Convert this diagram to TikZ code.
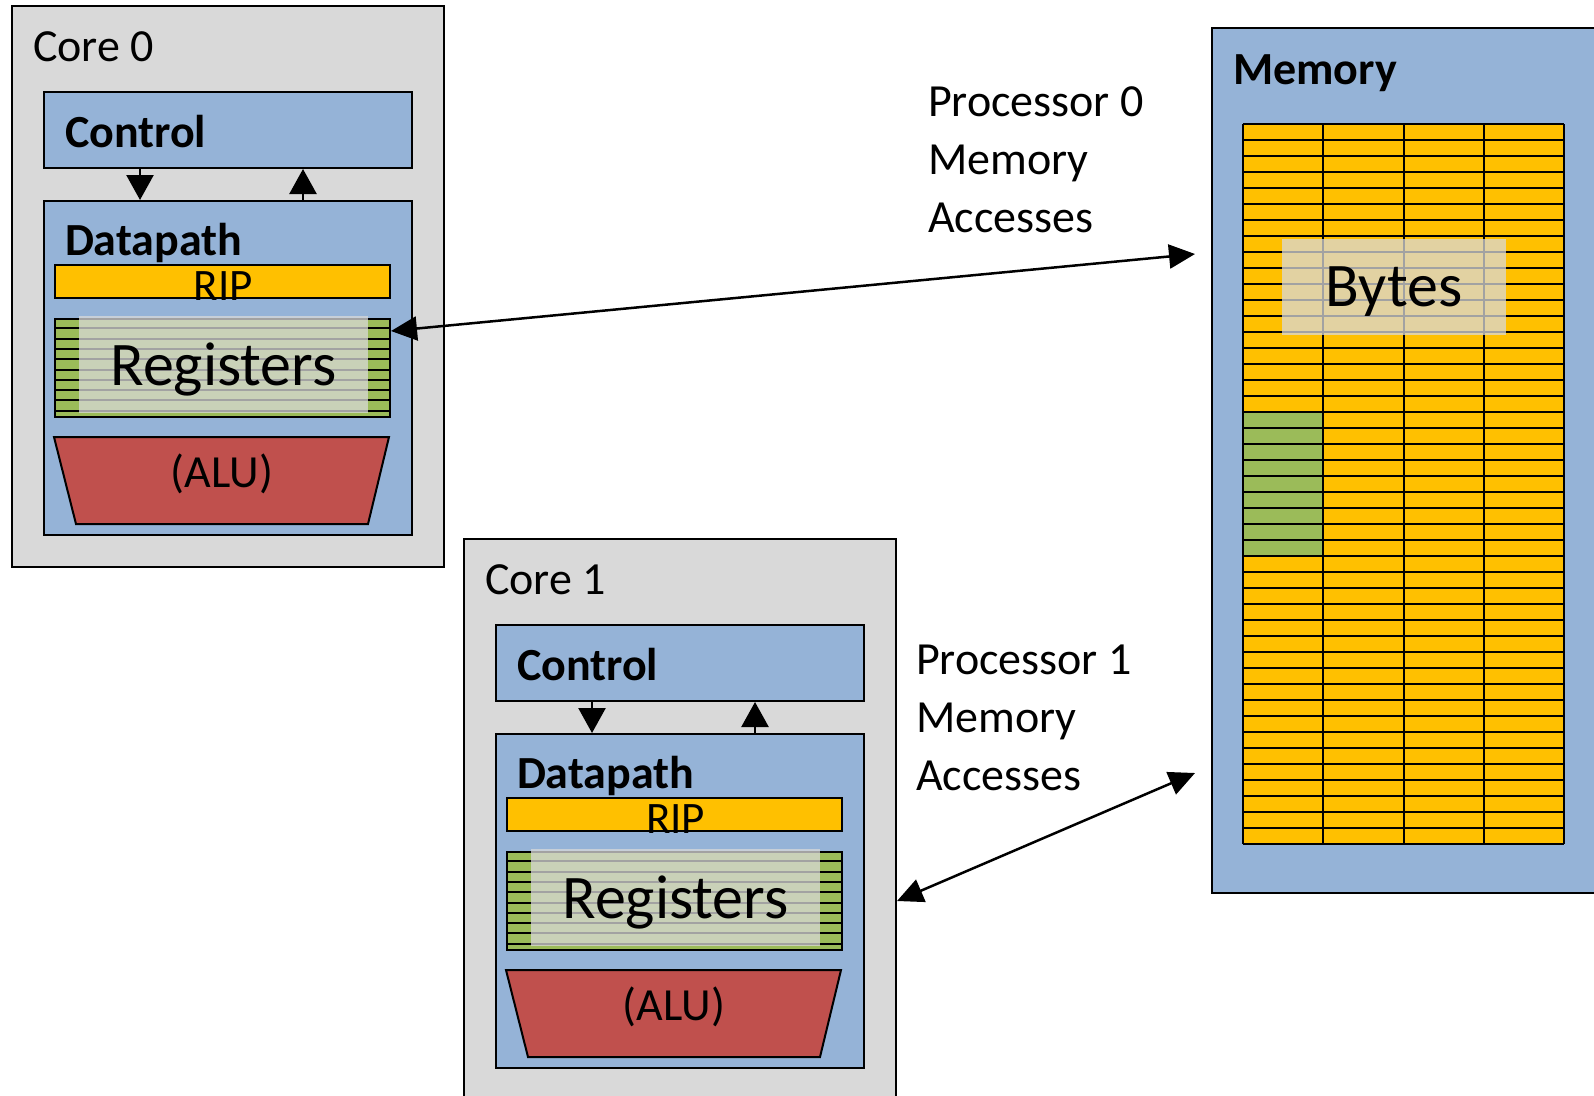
\documentclass[tikz,border=0pt]{standalone}
\usepackage{fontspec}
\setmainfont{Carlito}
\usetikzlibrary{arrows.meta}

\definecolor{coregray}{HTML}{D9D9D9}
\definecolor{unitblue}{HTML}{95B3D7}
\definecolor{ripyellow}{HTML}{FFC000}
\definecolor{reggreen}{HTML}{9BBB59}
\definecolor{alured}{HTML}{C0504D}

\newcommand{\lblfont}{\fontsize{46}{58}\selectfont}
\newcommand{\ripfont}{\fontsize{45}{54}\selectfont}
\newcommand{\regfont}{\fontsize{62}{74}\selectfont}

\tikzset{
    box/.style={draw=black, anchor=north west, inner sep=0pt},
    veil/.style={fill=coregray, fill opacity=0.75, text opacity=1, anchor=north west, inner sep=0pt, text depth=0pt, font=\regfont},
    label/.style={anchor=base west, inner sep=0pt, font=\lblfont},
    small/.style={-{Triangle[length=25pt,width=27pt]}, line width=2.5pt},
    access/.style={{Triangle[length=26pt,width=24pt]}-{Triangle[length=26pt,width=24pt]}, line width=2.5pt}
}

\begin{document}
\begin{tikzpicture}[x=1pt, y=-1pt, line width=2pt]
    \clip (0,0) rectangle (1594,1095);
    \fill[white] (0,0) rectangle (1594,1095);

    % the two cores
    \foreach \i/\dx/\dy in {0/0/0, 1/452/533}{
    \begin{scope}[shift={(\dx,\dy)}]
        \node[box, fill=coregray, minimum width=432, minimum height=561] (core\i) at (11,5) {};
        \node[label] (corelbl\i) at ([shift={(21,56)}]core\i.north west) {Core \i};

        \node[box, fill=unitblue, minimum width=368, minimum height=76] (ctl\i) at (43,91) {};
        \node[label, font=\lblfont\bfseries] (ctllbl\i) at ([shift={(21,56)}]ctl\i.north west) {Control};

        \node[box, fill=unitblue, minimum width=368, minimum height=334] (dp\i) at (43,200) {};
        \node[label, font=\lblfont\bfseries] (dplbl\i) at ([shift={(21,55)}]dp\i.north west) {Datapath};

        \draw[small] ([xshift=97pt]ctl\i.south west) -- ([xshift=97pt]dp\i.north west);
        \draw[small] ([xshift=260pt]dp\i.north west) -- ([xshift=260pt]ctl\i.south west);

        \node[box, fill=ripyellow, minimum width=335, minimum height=33] (rip\i) at (54,264) {};
        \node[anchor=base, inner sep=0pt, font=\ripfont] (riplbl\i) at ([shift={(1,1)}]rip\i.south) {RIP};

        \node[box, fill=reggreen, minimum width=335, minimum height=98] (reg\i) at (54,318) {};
        \foreach \k in {1,...,9}
            \draw ([shift={(0,10.3*\k)}]reg\i.north west) -- ([shift={(0,10.3*\k)}]reg\i.north east);
        \node[veil, minimum width=289, minimum height=97] (regtxt\i) at (78,315) {Registers};

        \draw[fill=alured] (54,437) -- (389,437) -- (368,524) -- (76,524) -- cycle;
        \node[font=\lblfont] (alu\i) at (222,474) {(ALU)};
    \end{scope}}

    % memory
    \node[box, fill=unitblue, minimum width=400, minimum height=865] (mem) at (1211,27) {};
    \node[label, font=\lblfont\bfseries] (memlbl) at ([shift={(21,57)}]mem.north west) {Memory};

    \fill[ripyellow] (1243,124) rectangle (1564,844);
    \fill[reggreen] (1243,412) rectangle (1323.25,556);
    \foreach \r in {0,...,45}
        \draw (1243,124+16*\r) -- (1564,124+16*\r);
    \foreach \c in {0,...,4}
        \draw (1243+80.25*\c,124) -- (1243+80.25*\c,844);
    \node[veil, minimum width=224, minimum height=96] (bytes) at (1281,238) {Bytes};

    % accesses
    \node[anchor=north west, align=left, inner sep=0pt, font=\lblfont] (acc0lbl) at (927,86) {Processor 0\\Memory\\Accesses};
    \node[anchor=north west, align=left, inner sep=0pt, font=\lblfont] (acc1lbl) at (915,644) {Processor 1\\Memory\\Accesses};

    \coordinate (acc0) at (1195,254);
    \coordinate (acc1) at (1195,773);
    \draw[access] ([shift={(0,13)}]reg0.north east) -- (acc0);
    \draw[access] (core1.east |- reg1.east) -- (acc1);
\end{tikzpicture}
\end{document}
